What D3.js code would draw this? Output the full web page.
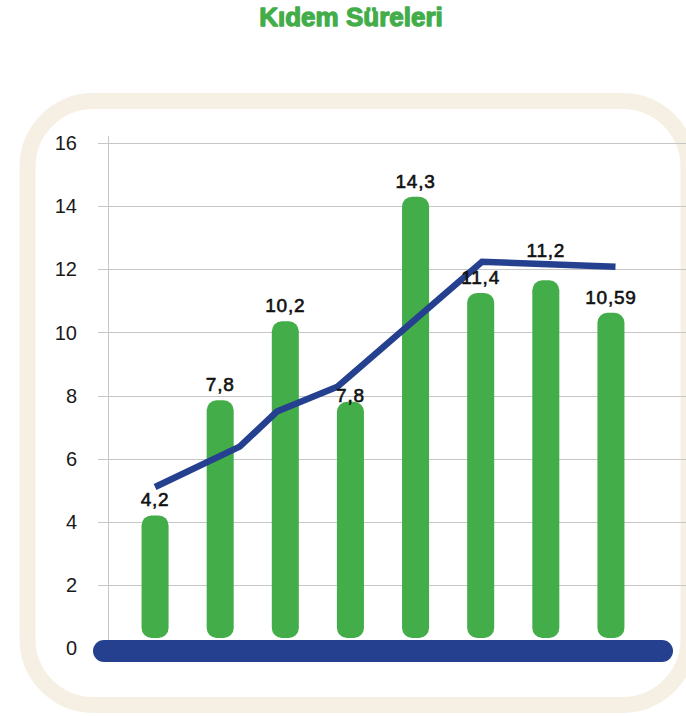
<!DOCTYPE html>
<html>
<head>
<meta charset="utf-8">
<script src="https://cdn.jsdelivr.net/npm/d3@7"></script>
<style>
  html, body { margin: 0; padding: 0; background: #ffffff; }
  svg { display: block; }
</style>
</head>
<body>
<svg id="chart" width="686" height="716"></svg>
<script>
// ---- data ----
const title = "Kıdem Süreleri";
const categories = ["1", "2", "3", "4", "5", "6", "7", "8"];
const barValues = [4.2, 7.85, 10.35, 7.8, 14.3, 11.25, 11.65, 10.62];
const barLabels = ["4,2", "7,8", "10,2", "7,8", "14,3", "11,4", "11,2", "10,59"];
const linePositions = [0, 1.3, 1.87, 2.8, 5.02, 7.07];   // along category index
const lineValues = [5.1, 6.38, 7.49, 8.28, 12.24, 12.08];
const yTicks = [0, 2, 4, 6, 8, 10, 12, 14, 16];

// ---- layout ----
const svg = d3.select("#chart");
const green = "#43ad4a";
const blue = "#25408f";
const cream = "#f5f0e3";
const FONT = "Liberation Sans, Arial, sans-serif";

// frame
svg.append("rect")
  .attr("x", 27.5).attr("y", 101)
  .attr("width", 661).attr("height", 604)
  .attr("rx", 66).attr("ry", 66)
  .attr("fill", "#ffffff")
  .attr("stroke", cream).attr("stroke-width", 16);

// title
svg.append("text")
  .attr("x", 351).attr("y", 26)
  .attr("text-anchor", "middle")
  .attr("font-family", FONT)
  .attr("font-weight", "bold")
  .attr("font-size", 26)
  .attr("fill", green)
  .attr("stroke", green).attr("stroke-width", 1.3)
  .attr("stroke-linejoin", "round")
  .text(title);

const y = d3.scaleLinear().domain([0, 16]).range([648, 143]);
const x = d3.scaleBand().domain(categories)
  .range([122.5, 643.5]).paddingInner(0.585).paddingOuter(0.2925);
const xc = d3.scaleLinear().domain([0, categories.length - 1])
  .range([x(categories[0]) + x.bandwidth() / 2,
          x(categories[categories.length - 1]) + x.bandwidth() / 2]);

// gridlines
svg.append("g").selectAll("line").data(yTicks.filter(d => d > 0)).join("line")
  .attr("x1", 98).attr("x2", 686)
  .attr("y1", d => Math.round(y(d)) + 0.5).attr("y2", d => Math.round(y(d)) + 0.5)
  .attr("stroke", "#c6c6c6").attr("stroke-width", 1);

// y axis line
svg.append("line")
  .attr("x1", 108.5).attr("x2", 108.5)
  .attr("y1", 136).attr("y2", 645)
  .attr("stroke", "#c6c6c6").attr("stroke-width", 1);

// y tick labels
svg.append("g").selectAll("text").data(yTicks).join("text")
  .attr("x", 77)
  .attr("y", d => y(d))
  .attr("dy", "0.36em")
  .attr("text-anchor", "end")
  .attr("font-family", FONT)
  .attr("font-size", 20)
  .attr("fill", "#1a1a1a")
  .text(d => d);

// bars (rounded pills sitting on the baseline bar)
const barBottom = y(0) - 10;
svg.append("g").selectAll("rect").data(barValues).join("rect")
  .attr("x", (d, i) => x(categories[i]))
  .attr("width", x.bandwidth())
  .attr("y", d => y(d))
  .attr("height", d => barBottom - y(d))
  .attr("rx", 10).attr("ry", 10)
  .attr("fill", green);

// baseline pill
svg.append("rect")
  .attr("x", 93).attr("width", 580)
  .attr("y", y(0) - 8).attr("height", 22)
  .attr("rx", 11).attr("ry", 11)
  .attr("fill", blue);

// line
const linePts = linePositions.map((p, i) => [p, lineValues[i]]);
const lineGen = d3.line().x(d => xc(d[0])).y(d => y(d[1]));
const lineW = 6.5;
svg.append("path")
  .datum(linePts)
  .attr("d", lineGen)
  .attr("fill", "none")
  .attr("stroke", blue)
  .attr("stroke-width", lineW)
  .attr("stroke-linejoin", "miter")
  .attr("stroke-linecap", "butt");

// line pixel y at a category index (for label collision)
function lineYAt(idx) {
  for (let k = 0; k < linePts.length - 1; k++) {
    const a = linePts[k], b = linePts[k + 1];
    if (idx >= a[0] && idx <= b[0]) {
      const t = (idx - a[0]) / (b[0] - a[0]);
      return y(a[1] + t * (b[1] - a[1]));
    }
  }
  return null;
}

// value labels: above the bar; if the line crosses the label, drop it onto
// the bar top, or if that still collides put it above the line
const fs = 19, capH = fs * 0.72, gap = 9;
function labelBaseline(v, i) {
  const top = y(v);
  const ly = lineYAt(i);
  const clash = b => ly !== null && ly + lineW / 2 > b - capH - 1 && ly - lineW / 2 < b + 1;
  let b = top - gap;
  if (!clash(b)) return b;
  b = top;
  if (!clash(b)) return b;
  return ly - lineW / 2 - 4;
}
svg.append("g").selectAll("text").data(barValues).join("text")
  .attr("x", (d, i) => x(categories[i]) + x.bandwidth() / 2)
  .attr("y", (d, i) => labelBaseline(d, i))
  .attr("text-anchor", "middle")
  .attr("font-family", FONT)
  .attr("font-size", fs)
  .attr("letter-spacing", 0.8)
  .attr("fill", "#111111")
  .attr("stroke", "#111111").attr("stroke-width", 0.6)
  .text((d, i) => barLabels[i]);
</script>
</body>
</html>
